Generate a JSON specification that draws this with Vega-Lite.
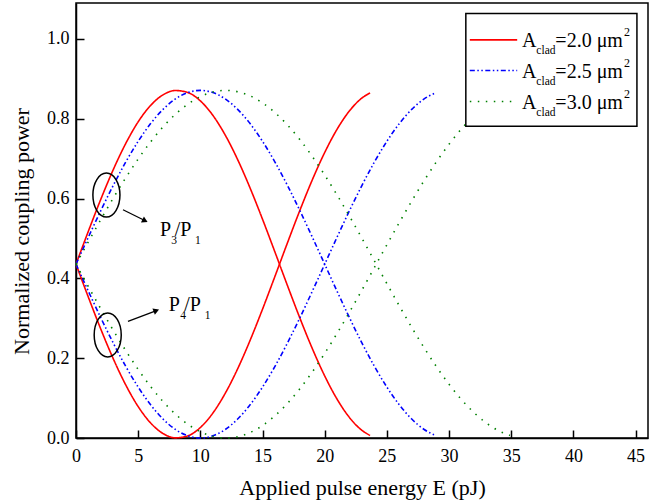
{
  "$schema": "https://vega.github.io/schema/vega-lite/v6.json",
  "width": 572,
  "height": 435,
  "autosize": {"type": "none"},
  "padding": {"left": 76, "top": 3, "right": 1, "bottom": 62},
  "background": "white",
  "config": {
    "font": "Liberation Serif",
    "view": {"stroke": "black", "strokeWidth": 1.5},
    "axis": {
      "domainColor": "black", "domainWidth": 1.5,
      "tickColor": "black", "tickWidth": 1.5, "tickSize": -8,
      "labelFont": "Liberation Serif", "labelFontSize": 18, "labelColor": "black",
      "titleFont": "Liberation Serif", "titleFontSize": 22, "titleFontWeight": "normal", "titleColor": "black",
      "grid": false, "labelFlush": false, "labelOverlap": false
    }
  },
  "encoding": {
    "x": {"field": "E", "type": "quantitative", "scale": {"domain": [0, 46], "nice": false, "zero": false},
          "axis": {"title": "Applied pulse energy E (pJ)", "values": [0,5,10,15,20,25,30,35,40,45], "format": "d", "labelPadding": 17, "titlePadding": 12}},
    "y": {"field": "P", "type": "quantitative", "scale": {"domain": [0, 1.09], "nice": false, "zero": false},
          "axis": {"title": "Normalized coupling power", "values": [0,0.2,0.4,0.6,0.8,1.0], "format": ".1f", "labelPadding": 15, "titlePadding": 13, "titleY": 228}}
  },
  "layer": [
    {
      "data": {"values": [
        {"E":0,"P":0.4355,"area":"2.0","port":"P3"},{"E":1,"P":0.5186,"area":"2.0","port":"P3"},{"E":2,"P":0.5986,"area":"2.0","port":"P3"},{"E":3,"P":0.6727,"area":"2.0","port":"P3"},{"E":4,"P":0.7380,"area":"2.0","port":"P3"},{"E":5,"P":0.7923,"area":"2.0","port":"P3"},{"E":6,"P":0.8333,"area":"2.0","port":"P3"},{"E":7,"P":0.8599,"area":"2.0","port":"P3"},{"E":8,"P":0.8707,"area":"2.0","port":"P3"},{"E":9,"P":0.8656,"area":"2.0","port":"P3"},{"E":10,"P":0.8447,"area":"2.0","port":"P3"},{"E":11,"P":0.8088,"area":"2.0","port":"P3"},{"E":12,"P":0.7591,"area":"2.0","port":"P3"},{"E":13,"P":0.6976,"area":"2.0","port":"P3"},{"E":14,"P":0.6264,"area":"2.0","port":"P3"},{"E":15,"P":0.5482,"area":"2.0","port":"P3"},{"E":16,"P":0.4659,"area":"2.0","port":"P3"},{"E":17,"P":0.3824,"area":"2.0","port":"P3"},{"E":18,"P":0.3009,"area":"2.0","port":"P3"},{"E":19,"P":0.2244,"area":"2.0","port":"P3"},{"E":20,"P":0.1556,"area":"2.0","port":"P3"},{"E":21,"P":0.0971,"area":"2.0","port":"P3"},{"E":22,"P":0.0510,"area":"2.0","port":"P3"},{"E":23,"P":0.0190,"area":"2.0","port":"P3"},{"E":23.65,"P":0.0064,"area":"2.0","port":"P3"},
        {"E":0,"P":0.4355,"area":"2.0","port":"P4"},{"E":1,"P":0.3524,"area":"2.0","port":"P4"},{"E":2,"P":0.2724,"area":"2.0","port":"P4"},{"E":3,"P":0.1983,"area":"2.0","port":"P4"},{"E":4,"P":0.1330,"area":"2.0","port":"P4"},{"E":5,"P":0.0787,"area":"2.0","port":"P4"},{"E":6,"P":0.0377,"area":"2.0","port":"P4"},{"E":7,"P":0.0111,"area":"2.0","port":"P4"},{"E":8,"P":0.0003,"area":"2.0","port":"P4"},{"E":9,"P":0.0054,"area":"2.0","port":"P4"},{"E":10,"P":0.0263,"area":"2.0","port":"P4"},{"E":11,"P":0.0622,"area":"2.0","port":"P4"},{"E":12,"P":0.1119,"area":"2.0","port":"P4"},{"E":13,"P":0.1734,"area":"2.0","port":"P4"},{"E":14,"P":0.2446,"area":"2.0","port":"P4"},{"E":15,"P":0.3228,"area":"2.0","port":"P4"},{"E":16,"P":0.4051,"area":"2.0","port":"P4"},{"E":17,"P":0.4886,"area":"2.0","port":"P4"},{"E":18,"P":0.5701,"area":"2.0","port":"P4"},{"E":19,"P":0.6466,"area":"2.0","port":"P4"},{"E":20,"P":0.7154,"area":"2.0","port":"P4"},{"E":21,"P":0.7739,"area":"2.0","port":"P4"},{"E":22,"P":0.8200,"area":"2.0","port":"P4"},{"E":23,"P":0.8520,"area":"2.0","port":"P4"},{"E":23.65,"P":0.8646,"area":"2.0","port":"P4"},
        {"E":0,"P":0.4355,"area":"2.5","port":"P3"},{"E":1,"P":0.5036,"area":"2.5","port":"P3"},{"E":2,"P":0.5701,"area":"2.5","port":"P3"},{"E":3,"P":0.6332,"area":"2.5","port":"P3"},{"E":4,"P":0.6915,"area":"2.5","port":"P3"},{"E":5,"P":0.7434,"area":"2.5","port":"P3"},{"E":6,"P":0.7878,"area":"2.5","port":"P3"},{"E":7,"P":0.8235,"area":"2.5","port":"P3"},{"E":8,"P":0.8497,"area":"2.5","port":"P3"},{"E":9,"P":0.8656,"area":"2.5","port":"P3"},{"E":10,"P":0.8710,"area":"2.5","port":"P3"},{"E":11,"P":0.8656,"area":"2.5","port":"P3"},{"E":12,"P":0.8497,"area":"2.5","port":"P3"},{"E":13,"P":0.8235,"area":"2.5","port":"P3"},{"E":14,"P":0.7878,"area":"2.5","port":"P3"},{"E":15,"P":0.7434,"area":"2.5","port":"P3"},{"E":16,"P":0.6915,"area":"2.5","port":"P3"},{"E":17,"P":0.6332,"area":"2.5","port":"P3"},{"E":18,"P":0.5701,"area":"2.5","port":"P3"},{"E":19,"P":0.5036,"area":"2.5","port":"P3"},{"E":20,"P":0.4355,"area":"2.5","port":"P3"},{"E":21,"P":0.3674,"area":"2.5","port":"P3"},{"E":22,"P":0.3009,"area":"2.5","port":"P3"},{"E":23,"P":0.2378,"area":"2.5","port":"P3"},{"E":24,"P":0.1795,"area":"2.5","port":"P3"},{"E":25,"P":0.1276,"area":"2.5","port":"P3"},{"E":26,"P":0.0832,"area":"2.5","port":"P3"},{"E":27,"P":0.0475,"area":"2.5","port":"P3"},{"E":28,"P":0.0213,"area":"2.5","port":"P3"},{"E":28.9,"P":0.0065,"area":"2.5","port":"P3"},
        {"E":0,"P":0.4355,"area":"2.5","port":"P4"},{"E":1,"P":0.3674,"area":"2.5","port":"P4"},{"E":2,"P":0.3009,"area":"2.5","port":"P4"},{"E":3,"P":0.2378,"area":"2.5","port":"P4"},{"E":4,"P":0.1795,"area":"2.5","port":"P4"},{"E":5,"P":0.1276,"area":"2.5","port":"P4"},{"E":6,"P":0.0832,"area":"2.5","port":"P4"},{"E":7,"P":0.0475,"area":"2.5","port":"P4"},{"E":8,"P":0.0213,"area":"2.5","port":"P4"},{"E":9,"P":0.0054,"area":"2.5","port":"P4"},{"E":10,"P":0.0,"area":"2.5","port":"P4"},{"E":11,"P":0.0054,"area":"2.5","port":"P4"},{"E":12,"P":0.0213,"area":"2.5","port":"P4"},{"E":13,"P":0.0475,"area":"2.5","port":"P4"},{"E":14,"P":0.0832,"area":"2.5","port":"P4"},{"E":15,"P":0.1276,"area":"2.5","port":"P4"},{"E":16,"P":0.1795,"area":"2.5","port":"P4"},{"E":17,"P":0.2378,"area":"2.5","port":"P4"},{"E":18,"P":0.3009,"area":"2.5","port":"P4"},{"E":19,"P":0.3674,"area":"2.5","port":"P4"},{"E":20,"P":0.4355,"area":"2.5","port":"P4"},{"E":21,"P":0.5036,"area":"2.5","port":"P4"},{"E":22,"P":0.5701,"area":"2.5","port":"P4"},{"E":23,"P":0.6332,"area":"2.5","port":"P4"},{"E":24,"P":0.6915,"area":"2.5","port":"P4"},{"E":25,"P":0.7434,"area":"2.5","port":"P4"},{"E":26,"P":0.7878,"area":"2.5","port":"P4"},{"E":27,"P":0.8235,"area":"2.5","port":"P4"},{"E":28,"P":0.8497,"area":"2.5","port":"P4"},{"E":28.9,"P":0.8645,"area":"2.5","port":"P4"},
        {"E":0,"P":0.4355,"area":"3.0","port":"P3"},{"E":1,"P":0.4920,"area":"3.0","port":"P3"},{"E":2,"P":0.5476,"area":"3.0","port":"P3"},{"E":3,"P":0.6013,"area":"3.0","port":"P3"},{"E":4,"P":0.6520,"area":"3.0","port":"P3"},{"E":5,"P":0.6992,"area":"3.0","port":"P3"},{"E":6,"P":0.7420,"area":"3.0","port":"P3"},{"E":7,"P":0.7796,"area":"3.0","port":"P3"},{"E":8,"P":0.8113,"area":"3.0","port":"P3"},{"E":9,"P":0.8367,"area":"3.0","port":"P3"},{"E":10,"P":0.8553,"area":"3.0","port":"P3"},{"E":11,"P":0.8668,"area":"3.0","port":"P3"},{"E":12,"P":0.8710,"area":"3.0","port":"P3"},{"E":13,"P":0.8678,"area":"3.0","port":"P3"},{"E":14,"P":0.8574,"area":"3.0","port":"P3"},{"E":15,"P":0.8397,"area":"3.0","port":"P3"},{"E":16,"P":0.8153,"area":"3.0","port":"P3"},{"E":17,"P":0.7845,"area":"3.0","port":"P3"},{"E":18,"P":0.7478,"area":"3.0","port":"P3"},{"E":19,"P":0.7056,"area":"3.0","port":"P3"},{"E":20,"P":0.6590,"area":"3.0","port":"P3"},{"E":21,"P":0.6086,"area":"3.0","port":"P3"},{"E":22,"P":0.5553,"area":"3.0","port":"P3"},{"E":23,"P":0.5000,"area":"3.0","port":"P3"},{"E":24,"P":0.4436,"area":"3.0","port":"P3"},{"E":25,"P":0.3869,"area":"3.0","port":"P3"},{"E":26,"P":0.3312,"area":"3.0","port":"P3"},{"E":27,"P":0.2772,"area":"3.0","port":"P3"},{"E":28,"P":0.2259,"area":"3.0","port":"P3"},{"E":29,"P":0.1782,"area":"3.0","port":"P3"},{"E":30,"P":0.1348,"area":"3.0","port":"P3"},{"E":31,"P":0.0963,"area":"3.0","port":"P3"},{"E":32,"P":0.0638,"area":"3.0","port":"P3"},{"E":33,"P":0.0375,"area":"3.0","port":"P3"},{"E":34,"P":0.0179,"area":"3.0","port":"P3"},{"E":34.9,"P":0.0064,"area":"3.0","port":"P3"},
        {"E":0,"P":0.4355,"area":"3.0","port":"P4"},{"E":1,"P":0.3790,"area":"3.0","port":"P4"},{"E":2,"P":0.3234,"area":"3.0","port":"P4"},{"E":3,"P":0.2697,"area":"3.0","port":"P4"},{"E":4,"P":0.2190,"area":"3.0","port":"P4"},{"E":5,"P":0.1718,"area":"3.0","port":"P4"},{"E":6,"P":0.1290,"area":"3.0","port":"P4"},{"E":7,"P":0.0914,"area":"3.0","port":"P4"},{"E":8,"P":0.0597,"area":"3.0","port":"P4"},{"E":9,"P":0.0343,"area":"3.0","port":"P4"},{"E":10,"P":0.0157,"area":"3.0","port":"P4"},{"E":11,"P":0.0042,"area":"3.0","port":"P4"},{"E":12,"P":0.0,"area":"3.0","port":"P4"},{"E":13,"P":0.0032,"area":"3.0","port":"P4"},{"E":14,"P":0.0136,"area":"3.0","port":"P4"},{"E":15,"P":0.0313,"area":"3.0","port":"P4"},{"E":16,"P":0.0557,"area":"3.0","port":"P4"},{"E":17,"P":0.0865,"area":"3.0","port":"P4"},{"E":18,"P":0.1232,"area":"3.0","port":"P4"},{"E":19,"P":0.1654,"area":"3.0","port":"P4"},{"E":20,"P":0.2120,"area":"3.0","port":"P4"},{"E":21,"P":0.2624,"area":"3.0","port":"P4"},{"E":22,"P":0.3157,"area":"3.0","port":"P4"},{"E":23,"P":0.3710,"area":"3.0","port":"P4"},{"E":24,"P":0.4274,"area":"3.0","port":"P4"},{"E":25,"P":0.4841,"area":"3.0","port":"P4"},{"E":26,"P":0.5398,"area":"3.0","port":"P4"},{"E":27,"P":0.5938,"area":"3.0","port":"P4"},{"E":28,"P":0.6451,"area":"3.0","port":"P4"},{"E":29,"P":0.6928,"area":"3.0","port":"P4"},{"E":30,"P":0.7362,"area":"3.0","port":"P4"},{"E":31,"P":0.7747,"area":"3.0","port":"P4"},{"E":32,"P":0.8072,"area":"3.0","port":"P4"},{"E":33,"P":0.8335,"area":"3.0","port":"P4"},{"E":34,"P":0.8531,"area":"3.0","port":"P4"},{"E":34.9,"P":0.8646,"area":"3.0","port":"P4"}
      ]},
      "mark": {"type": "line", "strokeWidth": 1.6, "interpolate": "monotone"},
      "encoding": {
        "color": {"field": "area", "type": "nominal", "scale": {"domain": ["2.0","2.5","3.0"], "range": ["#ff0000","#0000ff","#008000"]}, "legend": null},
        "strokeDash": {"field": "area", "type": "nominal", "scale": {"domain": ["2.0","2.5","3.0"], "range": [[1,0],[5,2.5,1.5,2.5,1.5,2.5],[1.5,6.5]]}, "legend": null},
        "detail": {"field": "port", "type": "nominal"}
      }
    },
    {
      "data": {"values": [{"E":2.446,"P":0.6087},{"E":2.55,"P":0.2584}]},
      "mark": {"type": "point", "shape": "M -0.615,0 A 0.615,1 0 1,0 0.615,0 A 0.615,1 0 1,0 -0.615,0 Z", "size": 1936, "filled": false, "stroke": "black", "strokeWidth": 1.5, "opacity": 1},
      "encoding": {}
    },
    {
      "data": {"values": [{"E":3.78,"P":0.572,"E2":5.61,"P2":0.5437},{"E":4.18,"P":0.292,"E2":6.52,"P2":0.320}]},
      "mark": {"type": "rule", "color": "black", "strokeWidth": 1.3},
      "encoding": {"x2": {"field": "E2"}, "y2": {"field": "P2"}}
    },
    {
      "data": {"values": [{"E":5.55,"P":0.5445}]},
      "mark": {"type": "point", "shape": "triangle-right", "size": 45, "filled": true, "color": "black", "opacity": 1, "angle": 26.7},
      "encoding": {}
    },
    {
      "data": {"values": [{"E":6.46,"P":0.3193}]},
      "mark": {"type": "point", "shape": "triangle-right", "size": 45, "filled": true, "color": "black", "opacity": 1, "angle": 338.7},
      "encoding": {}
    },
    {
      "data": {"values": [{"E":6.75,"P":0.5054,"t":"P"},{"E":7.94,"P":0.5054,"t":"/P"},{"E":7.46,"P":0.3177,"t":"P"},{"E":8.70,"P":0.3177,"t":"/P"}]},
      "mark": {"type": "text", "font": "Liberation Serif", "fontSize": 20, "align": "left", "baseline": "alphabetic", "color": "black"},
      "encoding": {"text": {"field": "t"}}
    },
    {
      "data": {"values": [{"E":7.66,"P":0.4854,"t":"3"},{"E":9.57,"P":0.4854,"t":"1"},{"E":8.38,"P":0.2977,"t":"4"},{"E":10.35,"P":0.2977,"t":"1"}]},
      "mark": {"type": "text", "font": "Liberation Serif", "fontSize": 11.5, "align": "left", "baseline": "alphabetic", "color": "black"},
      "encoding": {"text": {"field": "t"}}
    },
    {
      "data": {"values": [{"E":31.35,"P":1.064,"E2":45.11,"P2":0.781}]},
      "mark": {"type": "rect", "fill": "white", "stroke": "black", "strokeWidth": 1.5},
      "encoding": {"x2": {"field": "E2"}, "y2": {"field": "P2"}}
    },
    {
      "data": {"values": [{"area":"2.0","E":31.67,"E2":35.48,"P":0.9975},{"area":"2.5","E":31.67,"E2":35.48,"P":0.9207},{"area":"3.0","E":31.67,"E2":35.48,"P":0.8431}]},
      "mark": {"type": "rule", "strokeWidth": 1.6},
      "encoding": {"x2": {"field": "E2"},
                   "color": {"field": "area", "type": "nominal", "legend": null},
                   "strokeDash": {"field": "area", "type": "nominal", "legend": null}}
    },
    {
      "data": {"values": [{"E":35.86,"P":0.979,"t":"A"},{"E":38.55,"P":0.979,"t":"=2.0 μm"},{"E":35.86,"P":0.9024,"t":"A"},{"E":38.55,"P":0.9024,"t":"=2.5 μm"},{"E":35.86,"P":0.8249,"t":"A"},{"E":38.55,"P":0.8249,"t":"=3.0 μm"}]},
      "mark": {"type": "text", "font": "Liberation Serif", "fontSize": 20, "align": "left", "baseline": "alphabetic", "color": "black"},
      "encoding": {"text": {"field": "t"}}
    },
    {
      "data": {"values": [{"E":37.02,"P":0.9622,"t":"clad"},{"E":37.02,"P":0.8857,"t":"clad"},{"E":37.02,"P":0.8081,"t":"clad"}]},
      "mark": {"type": "text", "font": "Liberation Serif", "fontSize": 11.5, "align": "left", "baseline": "alphabetic", "color": "black"},
      "encoding": {"text": {"field": "t"}}
    },
    {
      "data": {"values": [{"E":44.06,"P":1.0065,"t":"2"},{"E":44.06,"P":0.930,"t":"2"},{"E":44.06,"P":0.8524,"t":"2"}]},
      "mark": {"type": "text", "font": "Liberation Serif", "fontSize": 12, "align": "left", "baseline": "alphabetic", "color": "black"},
      "encoding": {"text": {"field": "t"}}
    }
  ]
}
